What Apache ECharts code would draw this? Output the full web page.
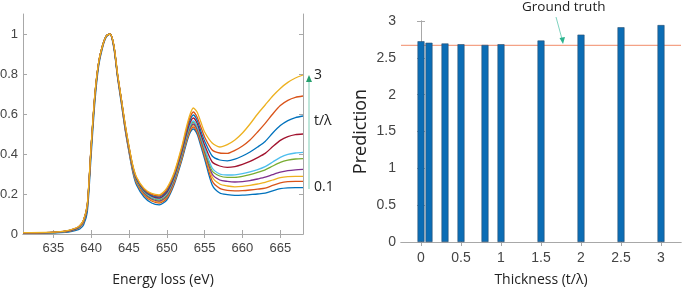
<!DOCTYPE html>
<html>
<head>
<meta charset="utf-8">
<script src="https://cdn.jsdelivr.net/npm/echarts@6/dist/echarts.min.js"></script>
<style>
  html, body { margin: 0; padding: 0; background: #fff; }
  #chart { width: 685px; height: 288px; }
</style>
</head>
<body>
<div id="chart"></div>
<script>
// energy axis (eV) for the spectra
const energy = [631, 634, 636, 637, 638, 638.5, 639, 639.5, 640, 640.5, 641, 641.5, 642, 642.5, 643, 643.5, 644,
    644.5, 645, 645.5, 646, 647, 648, 649, 650, 651, 652, 652.5, 653, 653.5, 654, 654.5, 655, 656, 657,
    658, 659, 660, 661, 662, 663, 664, 665, 666, 667, 668];

// spectra, t/lambda = 0.1 (bottom) ... 3 (top)
const spec1 = [0.003,0.004,0.007,0.01,0.018,0.025,0.045,0.11,0.39,0.66,0.84,0.93,0.985,1.0,0.93,0.78,0.65,
    0.52,0.41,0.31,0.245,0.185,0.155,0.146, 0.17,0.25,0.37,0.44,0.5,0.525, 0.5,0.44,0.375,0.245,0.205,
    0.197,0.193,0.194,0.197,0.2,0.204,0.216,0.227,0.231,0.232,0.232];
const spec2 = [0.004,0.005,0.009,0.013,0.023,0.033,0.058,0.13,0.42,0.68,0.85,0.935,0.988,1.0,0.935,0.785,0.66,
    0.525,0.415,0.318,0.255,0.195,0.165,0.155, 0.178,0.258,0.378,0.45,0.508,0.535, 0.51,0.452,0.39,0.265,0.228,
    0.218,0.216,0.217,0.22,0.224,0.229,0.243,0.256,0.262,0.263,0.263];
const spec3 = [0.005,0.006,0.01,0.015,0.026,0.038,0.065,0.14,0.43,0.69,0.855,0.94,0.99,1.0,0.94,0.79,0.665,
    0.53,0.42,0.322,0.26,0.2,0.17,0.16, 0.184,0.264,0.385,0.456,0.515,0.545, 0.52,0.463,0.4,0.285,0.25,
    0.24,0.236,0.238,0.243,0.25,0.258,0.27,0.282,0.287,0.288,0.288];
const spec4 = [0.005,0.006,0.01,0.015,0.026,0.038,0.065,0.14,0.43,0.69,0.855,0.94,0.99,1.0,0.94,0.79,0.667,
    0.532,0.423,0.326,0.265,0.205,0.175,0.165, 0.19,0.27,0.392,0.463,0.522,0.55, 0.525,0.47,0.41,0.3,0.27,
    0.263,0.26,0.262,0.267,0.275,0.284,0.297,0.309,0.317,0.321,0.323];
const spec5 = [0.005,0.006,0.01,0.015,0.026,0.038,0.066,0.14,0.43,0.69,0.855,0.94,0.99,1.0,0.94,0.79,0.668,
    0.535,0.426,0.33,0.268,0.21,0.18,0.17, 0.196,0.277,0.399,0.47,0.53,0.56, 0.535,0.48,0.42,0.315,0.29,
    0.283,0.283,0.288,0.297,0.308,0.321,0.34,0.358,0.369,0.375,0.377];
const spec6 = [0.005,0.006,0.01,0.016,0.027,0.039,0.066,0.14,0.43,0.69,0.855,0.94,0.99,1.0,0.94,0.792,0.669,
    0.537,0.429,0.333,0.271,0.213,0.184,0.175, 0.202,0.283,0.405,0.477,0.537,0.565, 0.54,0.49,0.43,0.33,0.3,
    0.295,0.296,0.302,0.311,0.322,0.337,0.36,0.383,0.398,0.405,0.408];
const spec7 = [0.006,0.007,0.011,0.016,0.027,0.04,0.067,0.145,0.435,0.695,0.858,0.94,0.99,1.0,0.942,0.794,0.67,
    0.54,0.432,0.336,0.275,0.217,0.189,0.18, 0.208,0.29,0.414,0.487,0.55,0.58, 0.555,0.5,0.445,0.36,0.34,
    0.333,0.337,0.348,0.363,0.382,0.403,0.437,0.468,0.487,0.497,0.5];
const spec8 = [0.006,0.007,0.011,0.017,0.028,0.04,0.068,0.145,0.435,0.695,0.858,0.94,0.99,1.0,0.943,0.796,0.672,
    0.543,0.435,0.339,0.278,0.22,0.193,0.185, 0.215,0.296,0.422,0.497,0.562,0.595, 0.57,0.515,0.465,0.39,0.37,
    0.366,0.374,0.39,0.41,0.435,0.463,0.505,0.542,0.567,0.582,0.59];
const spec9 = [0.006,0.007,0.012,0.017,0.029,0.041,0.069,0.148,0.438,0.698,0.86,0.94,0.99,1.0,0.944,0.798,0.673,
    0.546,0.438,0.342,0.281,0.224,0.198,0.19, 0.222,0.303,0.43,0.507,0.575,0.61, 0.585,0.535,0.485,0.42,0.405,
    0.403,0.418,0.44,0.47,0.51,0.553,0.6,0.642,0.668,0.683,0.69];
const spec10 = [0.007,0.008,0.012,0.018,0.03,0.042,0.07,0.15,0.44,0.7,0.86,0.94,0.99,1.0,0.945,0.8,0.675,
    0.55,0.44,0.345,0.285,0.228,0.203,0.196, 0.23,0.31,0.44,0.52,0.59,0.63, 0.61,0.56,0.51,0.455,0.435,
    0.447,0.47,0.505,0.55,0.6,0.645,0.69,0.728,0.758,0.78,0.795];

const spectra = [spec1, spec2, spec3, spec4, spec5, spec6, spec7, spec8, spec9, spec10];
const lineColors = ['#0072BD', '#D95319', '#EDB120', '#7E2F8E', '#77AC30', '#4DBEEE', '#A2142F',
    '#0072BD', '#D95319', '#EDB120'];

const energyTicks = [635, 640, 645, 650, 655, 660, 665];
const intensityTicks = [0, 0.2, 0.4, 0.6, 0.8, 1];

// thickness prediction
const thickness = [0, 0.1, 0.3, 0.5, 0.8, 1, 1.5, 2, 2.5, 3];
const prediction = [2.725, 2.705, 2.695, 2.685, 2.675, 2.685, 2.735, 2.815, 2.915, 2.945];
const groundTruth = 2.67;
const thicknessRange = [-0.25, 3.25];
const thicknessTicks = [0, 0.5, 1, 1.5, 2, 2.5, 3];

const frame = '#a8a8a8';
const tickFont = { color: '#444', fontSize: 13, fontFamily: 'Liberation Sans, Arial, sans-serif' };

function frameAxis(extra) {
    return Object.assign({
        type: 'value',
        axisLine: { show: true, lineStyle: { color: frame, width: 1 } },
        splitLine: { show: false }
    }, extra);
}

const chart = echarts.init(document.getElementById('chart'), null, { renderer: 'canvas' });

const series = spectra.map((s, i) => ({
    type: 'line',
    name: 'spec' + (i + 1),
    xAxisIndex: 0,
    yAxisIndex: 0,
    data: energy.map((e, j) => [e, s[j]]),
    showSymbol: false,
    smooth: 0.25,
    lineStyle: { color: lineColors[i], width: 1.3 },
    itemStyle: { color: lineColors[i] }
}));

series.push({
    type: 'line',
    name: 'Ground truth',
    xAxisIndex: 2,
    yAxisIndex: 2,
    data: thicknessRange.map(t => [t, groundTruth]),
    showSymbol: false,
    silent: true,
    lineStyle: { color: '#f4a286', width: 1.2 },
    z: 1
});

series.push({
    type: 'bar',
    name: 'Prediction',
    xAxisIndex: 2,
    yAxisIndex: 2,
    data: thickness.map((t, i) => [t, prediction[i]]),
    barWidth: 7,
    itemStyle: { color: '#0b6db5', borderColor: '#2d4f6e', borderWidth: 0.6 },
    z: 2
});

chart.setOption({
    animation: false,
    backgroundColor: '#fff',
    grid: [
        { left: 23, top: 14, width: 280, height: 220, outerBoundsMode: 'none' },
        { left: 401, top: 21, width: 280, height: 221, outerBoundsMode: 'none' }
    ],
    xAxis: [
        frameAxis({
            gridIndex: 0, min: 631, max: 668, position: 'bottom',
            axisTick: { show: true, inside: true, length: 4, lineStyle: { color: frame }, customValues: energyTicks },
            axisLabel: Object.assign({ margin: 8, customValues: energyTicks }, tickFont),
            name: 'Energy loss (eV)', nameLocation: 'middle', nameGap: 39,
            nameTextStyle: { color: '#222', fontSize: 14, fontFamily: 'Open Sans, sans-serif' }
        }),
        frameAxis({
            gridIndex: 0, min: 631, max: 668, position: 'top',
            axisTick: { show: true, inside: true, length: 4, lineStyle: { color: frame }, customValues: energyTicks },
            axisLabel: { show: false }
        }),
        frameAxis({
            gridIndex: 1, min: thicknessRange[0], max: thicknessRange[1], position: 'bottom',
            axisTick: { show: true, inside: true, length: 4, lineStyle: { color: frame }, customValues: thicknessTicks },
            axisLabel: Object.assign({ margin: 9, customValues: thicknessTicks }, tickFont, { fontSize: 14 }),
            name: 'Thickness (t/\u03bb)', nameLocation: 'middle', nameGap: 31,
            nameTextStyle: { color: '#222', fontSize: 14, fontFamily: 'Open Sans, sans-serif' }
        }),
        frameAxis({
            gridIndex: 1, min: thicknessRange[0], max: thicknessRange[1], position: 'top',
            axisTick: { show: true, inside: true, length: 4, lineStyle: { color: frame }, customValues: thicknessTicks },
            axisLabel: { show: false }
        })
    ],
    yAxis: [
        frameAxis({
            gridIndex: 0, min: 0, max: 1.1, position: 'left',
            axisTick: { show: true, inside: true, length: 4, lineStyle: { color: frame }, customValues: intensityTicks },
            axisLabel: Object.assign({ margin: 5, customValues: intensityTicks }, tickFont)
        }),
        frameAxis({
            gridIndex: 0, min: 0, max: 1.1, position: 'right',
            axisTick: { show: true, inside: true, length: 4, lineStyle: { color: frame }, customValues: intensityTicks },
            axisLabel: { show: false }
        }),
        frameAxis({
            gridIndex: 1, min: 0, max: 3, interval: 0.5, position: 'left',
            axisTick: { show: true, inside: true, length: 4, lineStyle: { color: frame } },
            axisLabel: Object.assign({ margin: 5 }, tickFont, { fontSize: 14 }),
            name: 'Prediction', nameLocation: 'middle', nameGap: 31, nameRotate: 90,
            nameTextStyle: { color: '#222', fontSize: 18, fontFamily: 'Open Sans, sans-serif' }
        }),
        frameAxis({
            gridIndex: 1, min: 0, max: 3, interval: 0.5, position: 'right',
            axisTick: { show: true, inside: true, length: 4, lineStyle: { color: frame } },
            axisLabel: { show: false }
        })
    ],
    series: series,
    graphic: [
        // thickness arrow on the spectra panel
        { type: 'line', shape: { x1: 309, y1: 189, x2: 309, y2: 81 }, style: { stroke: '#bfe6da', lineWidth: 2 } },
        { type: 'polygon', shape: { points: [[309, 75], [306, 82], [312, 82]] }, style: { fill: '#26a06e' } },
        { type: 'text', left: 314, top: 68, style: { text: '3', fontSize: 14, fill: '#222', fontFamily: 'Open Sans, sans-serif' } },
        { type: 'text', left: 314, top: 114, style: { text: 't/\u03bb', fontSize: 14, fill: '#222', fontFamily: 'Open Sans, sans-serif' } },
        { type: 'text', left: 314, top: 180, style: { text: '0.1', fontSize: 14, fill: '#222', fontFamily: 'Open Sans, sans-serif' } },
        // ground truth callout
        { type: 'text', left: 522, top: 0, style: { text: 'Ground truth', fontSize: 13.5, fill: '#222', fontFamily: 'Open Sans, sans-serif' } },
        { type: 'line', shape: { x1: 556, y1: 17, x2: 562, y2: 39 }, style: { stroke: '#7fd3bf', lineWidth: 1 } },
        { type: 'polygon', shape: { points: [[563, 44], [559.5, 38], [565, 37]] }, style: { fill: '#2bb38e' } }
    ]
});
</script>
</body>
</html>
